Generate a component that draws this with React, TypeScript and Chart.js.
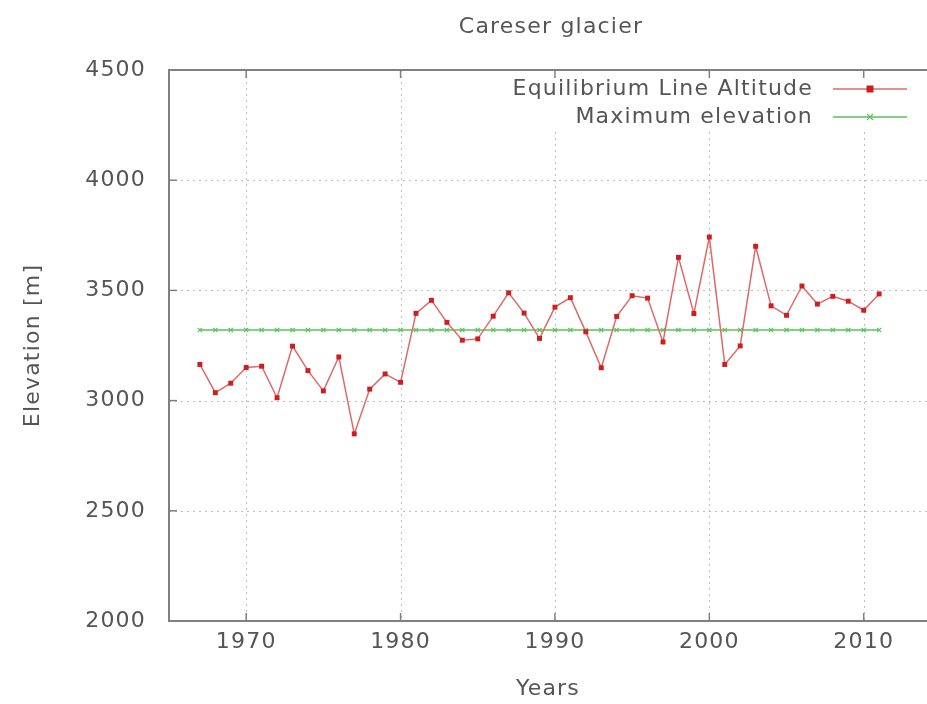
import { useEffect, useRef } from "react";
import { Chart, registerables } from "chart.js";

Chart.register(...registerables);

// Careser glacier: equilibrium line altitude per year vs. glacier top
const YEARS = [
  1967, 1968, 1969, 1970, 1971, 1972, 1973, 1974, 1975, 1976, 1977, 1978, 1979, 1980, 1981,
  1982, 1983, 1984, 1985, 1986, 1987, 1988, 1989, 1990, 1991, 1992, 1993, 1994, 1995, 1996,
  1997, 1998, 1999, 2000, 2001, 2002, 2003, 2004, 2005, 2006, 2007, 2008, 2009, 2010, 2011,
];
const ELA = [
  3164, 3036, 3079, 3150, 3156, 3013, 3247, 3136, 3044, 3198, 2849, 3052, 3121, 3083, 3396,
  3455, 3355, 3274, 3280, 3383, 3489, 3397, 3282, 3424, 3467, 3312, 3149, 3382, 3476, 3465,
  3266, 3650, 3395, 3742, 3164, 3248, 3700, 3430, 3387, 3520, 3438, 3473, 3451, 3410, 3484,
];
const MAX_ELEVATION = 3320;
const X_TICKS = [1970, 1980, 1990, 2000, 2010];
const Y_TICKS = [2000, 2500, 3000, 3500, 4000, 4500];

const TITLE = "Careser glacier";
const SERIES_NAMES = ["Equilibrium Line Altitude", "Maximum elevation"];

const FONT = "DejaVu Sans";
const FONT_SIZE = 22;
const SPACING = "1.2px";
const TEXT = "#555555";
const AXIS = "#808080";
const GRID = "#bdbdbd";
const RED_LINE = "#dd6a6a";
const RED_POINT = "#cc1f1f";
const GREEN = "#5cc05c";

// key box area (grid lines are not drawn behind it)
const KEY = { left: 505, bottom: 132, textRight: 813, sampleL: 833, sampleR: 907, rows: [89, 117] };

const framePlugin = {
  id: "frame",
  beforeDraw(chart: any) {
    // wide letter spacing for every label on the canvas
    chart.ctx.letterSpacing = SPACING;
  },
  beforeDatasetsDraw(chart: any) {
    const { ctx, chartArea: a, scales } = chart;
    const xs = scales.x;
    const ys = scales.y;
    ctx.save();
    ctx.strokeStyle = GRID;
    ctx.lineWidth = 1;
    ctx.setLineDash([2, 4]);
    for (const v of X_TICKS) {
      const px = Math.round(xs.getPixelForValue(v)) + 0.5;
      const top = px > KEY.left ? KEY.bottom : a.top;
      ctx.beginPath();
      ctx.moveTo(px, top);
      ctx.lineTo(px, a.bottom);
      ctx.stroke();
    }
    for (const v of Y_TICKS.slice(1, -1)) {
      const py = Math.round(ys.getPixelForValue(v)) + 0.5;
      ctx.beginPath();
      ctx.moveTo(a.left, py);
      ctx.lineTo(a.right, py);
      ctx.stroke();
    }
    ctx.restore();
  },
  afterDatasetsDraw(chart: any) {
    const { ctx, chartArea: a, scales } = chart;
    const xs = scales.x;
    const ys = scales.y;
    ctx.save();
    ctx.setLineDash([]);
    ctx.strokeStyle = AXIS;
    ctx.lineWidth = 1.5;
    // inward tick marks
    for (const v of Y_TICKS) {
      const py = ys.getPixelForValue(v);
      ctx.beginPath();
      ctx.moveTo(a.left, py);
      ctx.lineTo(a.left + 8, py);
      ctx.stroke();
    }
    for (const v of X_TICKS) {
      const px = xs.getPixelForValue(v);
      ctx.beginPath();
      ctx.moveTo(px, a.bottom);
      ctx.lineTo(px, a.bottom - 8);
      ctx.moveTo(px, a.top);
      ctx.lineTo(px, a.top + 8);
      ctx.stroke();
    }
    // border: left, top, bottom
    ctx.lineWidth = 2;
    ctx.beginPath();
    ctx.moveTo(a.right, a.top);
    ctx.lineTo(a.left, a.top);
    ctx.lineTo(a.left, a.bottom);
    ctx.lineTo(a.right, a.bottom);
    ctx.stroke();
    ctx.restore();
  },
  afterDraw(chart: any) {
    const { ctx } = chart;
    ctx.save();
    ctx.letterSpacing = SPACING;
    ctx.fillStyle = TEXT;
    ctx.textBaseline = "middle";
    // title
    ctx.font = `${FONT_SIZE}px "${FONT}"`;
    ctx.textAlign = "center";
    ctx.fillText(TITLE, 551, 27);
    // key
    ctx.textAlign = "right";
    const colors = [RED_LINE, GREEN];
    KEY.rows.forEach((y, i) => {
      ctx.fillStyle = TEXT;
      ctx.fillText(SERIES_NAMES[i], KEY.textRight, y);
      ctx.strokeStyle = colors[i];
      ctx.lineWidth = 1.5;
      ctx.beginPath();
      ctx.moveTo(KEY.sampleL, y);
      ctx.lineTo(KEY.sampleR, y);
      ctx.stroke();
      const mx = (KEY.sampleL + KEY.sampleR) / 2;
      if (i === 0) {
        ctx.fillStyle = RED_POINT;
        ctx.fillRect(mx - 3.5, y - 3.5, 7, 7);
      } else {
        ctx.strokeStyle = GREEN;
        ctx.lineWidth = 1.2;
        ctx.beginPath();
        ctx.moveTo(mx - 3, y - 3);
        ctx.lineTo(mx + 3, y + 3);
        ctx.moveTo(mx + 3, y - 3);
        ctx.lineTo(mx - 3, y + 3);
        ctx.stroke();
      }
    });
    ctx.restore();
  },
};

export default function App() {
  const canvasRef = useRef<HTMLCanvasElement | null>(null);

  useEffect(() => {
    if (!canvasRef.current) return;
    Chart.defaults.font.family = FONT;
    const chart = new Chart(canvasRef.current, {
      type: "line",
      data: {
        datasets: [
          {
            label: SERIES_NAMES[0],
            data: YEARS.map((x, i) => ({ x, y: ELA[i] })),
            borderColor: RED_LINE,
            borderWidth: 1.5,
            pointStyle: "rect",
            pointRadius: 3.5,
            pointBackgroundColor: RED_POINT,
            pointBorderColor: RED_POINT,
            pointBorderWidth: 0,
            tension: 0,
          },
          {
            label: SERIES_NAMES[1],
            data: YEARS.map((x) => ({ x, y: MAX_ELEVATION })),
            borderColor: GREEN,
            borderWidth: 1.5,
            pointStyle: "crossRot",
            pointRadius: 3,
            pointBorderColor: GREEN,
            pointBorderWidth: 1.2,
            tension: 0,
          },
        ],
      },
      options: {
        animation: false,
        responsive: false,
        maintainAspectRatio: false,
        layout: { autoPadding: false, padding: { top: 70, right: 0, left: 0, bottom: 0 } },
        plugins: {
          legend: { display: false },
          title: { display: false },
          tooltip: { enabled: false },
        },
        scales: {
          x: {
            type: "linear",
            min: 1965,
            max: 2014.1,
            afterBuildTicks: (s: any) => {
              s.ticks = X_TICKS.map((value) => ({ value }));
            },
            afterFit: (s: any) => {
              s.height = 83;
              s.paddingLeft = 0;
              s.paddingRight = 0;
            },
            ticks: {
              color: TEXT,
              font: { size: FONT_SIZE },
              padding: 8,
              callback: (v: any) => String(v),
            },
            grid: { display: false, drawTicks: false },
            border: { display: false },
            title: {
              display: true,
              text: "Years",
              color: TEXT,
              font: { size: FONT_SIZE },
              padding: { top: 0, bottom: 2 },
            },
          },
          y: {
            type: "linear",
            min: 2000,
            max: 4500,
            afterBuildTicks: (s: any) => {
              s.ticks = Y_TICKS.map((value) => ({ value }));
            },
            afterFit: (s: any) => {
              s.width = 169;
              s.paddingTop = 0;
              s.paddingBottom = 0;
            },
            ticks: {
              color: TEXT,
              font: { size: FONT_SIZE },
              padding: 23,
              callback: (v: any) => String(v),
            },
            grid: { display: false, drawTicks: false },
            border: { display: false },
            title: {
              display: true,
              text: "Elevation [m]",
              color: TEXT,
              font: { size: FONT_SIZE },
              padding: { top: 20, bottom: 0 },
            },
          },
        },
      },
      plugins: [framePlugin],
    });
    return () => chart.destroy();
  }, []);

  return (
    <div style={{ position: "absolute", left: 0, top: 0, width: 927, height: 704, background: "#fff" }}>
      <canvas ref={canvasRef} width={927} height={704} style={{ display: "block", width: 927, height: 704 }} />
    </div>
  );
}
